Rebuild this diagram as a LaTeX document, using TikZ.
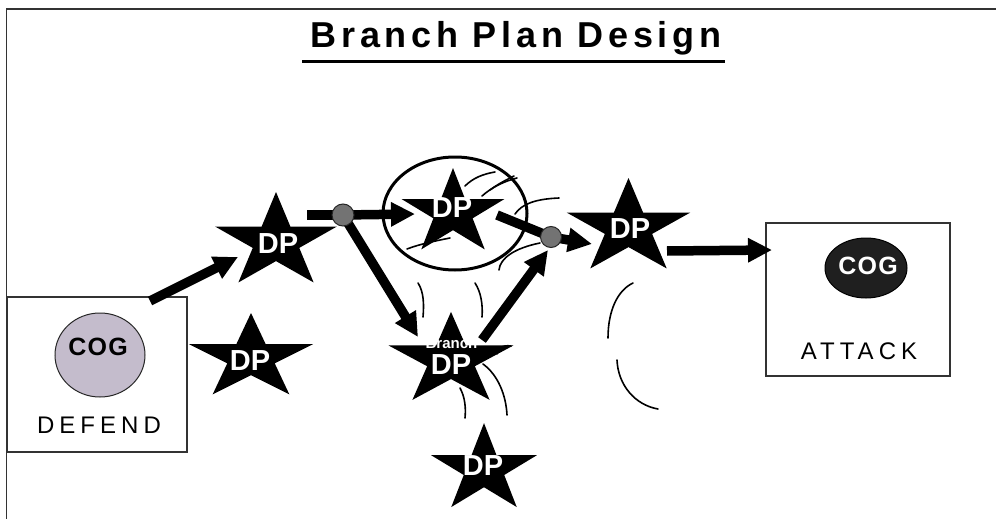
\documentclass[tikz,border=0pt]{standalone}
\usepackage{fontspec}
\setmainfont{Liberation Sans}
\newfontfamily\titlefont[LetterSpace=13]{Liberation Sans}
\newfontfamily\spacedfont[LetterSpace=21]{Liberation Sans}
\newfontfamily\cogfont[LetterSpace=5]{Liberation Sans}
\usetikzlibrary{arrows.meta,shapes.geometric}
\newcommand\dpstar[4]{%
  \begin{scope}[shift={(#1,#2)},xscale=#4]
    \fill (270:#3) -- (306:{0.382*#3}) -- (342:#3) -- (18:{0.382*#3}) -- (54:#3)
      -- (90:{0.382*#3}) -- (126:#3) -- (162:{0.382*#3}) -- (198:#3) -- (234:{0.382*#3}) -- cycle;
  \end{scope}}
\tikzset{
  dptext/.style={text=white, font=\bfseries\fontsize{29}{31}\selectfont, inner sep=0pt, anchor=base},
  bigarrow/.style={line width=9.5pt, -{Triangle[length=24pt,width=23pt]}},
  shaft/.style={line width=9.5pt},
  junction/.style={circle, draw=black!85, line width=1pt, fill=black!55, minimum size=22pt, inner sep=0pt},
  obst/.style={line width=1.6pt, line cap=round},
  panel/.style={draw=black!80, line width=1.2pt, fill=white, inner sep=0pt},
  spaced/.style={anchor=base, inner sep=0pt, font=\spacedfont\fontsize{24}{26}\selectfont},
  cogtext/.style={anchor=base, inner sep=0pt, font=\cogfont\bfseries\fontsize{25}{27}\selectfont},
}
\begin{document}
\begin{tikzpicture}[x=1pt,y=-1pt]
\useasboundingbox (0,0) rectangle (996,519);
\fill[white] (0,0) rectangle (996,519);
% page border
\draw[line width=1.8pt, black!80] (6.5,519) -- (6.5,9) -- (996,9);
% title
\node[anchor=base, inner sep=0pt, font=\titlefont\bfseries\fontsize{36}{40}\selectfont] (title) at (516,48) {Branch Plan Design};
\draw[line width=3pt] (302,62) -- (725,62);
% boxes
\node[panel, minimum width=180pt, minimum height=155pt] (defend) at (97,374.5) {};
\node[panel, minimum width=184pt, minimum height=153pt] (attack) at (858,299.5) {};
\node[ellipse, draw=black!85, line width=1pt, fill={rgb,255:red,196;green,188;blue,204}, minimum width=90pt, minimum height=84pt, inner sep=0pt] (cogd) at (100,355) {};
\node[ellipse, draw=black, line width=1pt, fill=black!88, minimum width=82pt, minimum height=60pt, inner sep=0pt] (coga) at (866,268) {};
% stars
\dpstar{276}{242}{50}{1.28}
\dpstar{251}{358}{45}{1.45}
\dpstar{453}{213}{45}{1.2}
\dpstar{628.5}{228}{50}{1.3}
\dpstar{451}{360.5}{48.6}{1.35}
\dpstar{484}{469.5}{46.4}{1.2}
% ring around the attacked DP
\node[ellipse, draw, line width=3pt, minimum width=144pt, minimum height=113pt, inner sep=0pt] (ring) at (455,213.5) {};
% junction dots (positions)
\coordinate (j1) at (343,215);
\coordinate (j2) at (551,237);
% arrows
\coordinate (a1s) at (150,301);
\coordinate (a1e) at (238,257);
\draw[bigarrow] (a1s) -- (a1e);
\coordinate (a2s) at (307,215);
\coordinate (a2e) at (415,214);
\draw[shaft] (a2s) -- (j1);
\draw[bigarrow] (j1) -- (a2e);
\coordinate (a3e) at (418,337);
\draw[bigarrow] (j1) -- (a3e);
\coordinate (a4s) at (482,340);
\coordinate (a4e) at (548,250);
\draw[bigarrow] (a4s) -- (a4e);
\coordinate (a5s) at (497,215);
\coordinate (a5e) at (592,244);
\draw[shaft] (a5s) -- (j2);
\draw[bigarrow] (j2) -- (a5e);
\coordinate (a6s) at (667,251);
\coordinate (a6e) at (772,250);
\draw[bigarrow] (a6s) -- (a6e);
\node[junction] (dot1) at (j1) {};
\node[junction, minimum size=21pt] (dot2) at (j2) {};
% obstacle strokes
\draw[obst] (465,186) .. controls (473,178) and (483,174) .. (495,172);
\draw[obst] (482,196) .. controls (492,187) and (505,181) .. (517,178);
\draw[obst] (490,190) .. controls (498,184) and (506,180) .. (514,176);
\draw[obst] (515,214) .. controls (522,204) and (535,199) .. (559,198);
\draw[obst] (407,249) .. controls (420,244) and (435,241) .. (450,238);
\draw[obst] (499,270) .. controls (500,258) and (515,248) .. (540,243);
\draw[obst] (418,283) .. controls (424,292) and (424,305) .. (423,317);
\draw[obst] (475,283) .. controls (481,292) and (483,305) .. (482,317);
\draw[obst] (497,354) .. controls (498,347) and (503,345) .. (511,346);
\draw[obst] (483,364) .. controls (498,375) and (506,395) .. (507,415);
\draw[obst] (460,388) .. controls (465,397) and (466,408) .. (465,418);
\draw[obst] (633,283) .. controls (618,290) and (608,310) .. (608,338);
\draw[obst] (617,360) .. controls (618,385) and (635,405) .. (658,409);
% texts
\node[dptext] (dpA) at (278,253) {DP};
\node[dptext] (dpB) at (250,370) {DP};
\node[dptext] (dpC) at (452,217) {DP};
\node[dptext] (dpD) at (630,238) {DP};
\node[dptext] (dpE) at (451,374) {DP};
\node[anchor=base, inner sep=0pt, text=white, font=\bfseries\fontsize{15}{17}\selectfont] (branch) at (451.5,348) {Branch};
\node[dptext] (dpF) at (483,475) {DP};
\node[cogtext] (cogdtext) at (98,355) {COG};
\node[cogtext, text=white] (cogatext) at (868,274) {COG};
\node[spaced] (deftext) at (99,433) {DEFEND};
\node[spaced] (atttext) at (859,359) {ATTACK};
\end{tikzpicture}
\end{document}
